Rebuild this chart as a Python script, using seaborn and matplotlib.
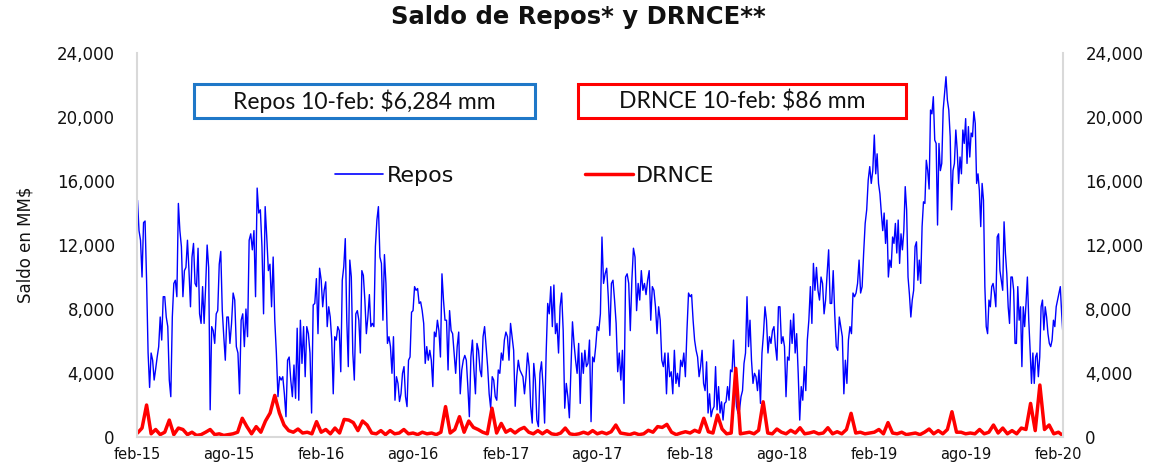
import numpy as np
import pandas as pd
import matplotlib
matplotlib.use("Agg")
import matplotlib.pyplot as plt
from matplotlib.lines import Line2D
from matplotlib.patches import Rectangle
from matplotlib.ticker import FuncFormatter
import seaborn as sns

# limites de cada semestre (el ultimo llega al 10-feb-20)
semestres = ["2015-02-02", "2015-08-01", "2016-02-01", "2016-08-01", "2017-02-01",
             "2017-08-01", "2018-02-01", "2018-08-01", "2019-02-01", "2019-08-01",
             "2020-02-10"]

repos_feb15 = [14800, 12900, 12300, 10000, 13400, 13500, 9800, 5250, 3100, 5250, 4800, 3560,
               4250, 5000, 5650, 7500, 6060, 8770, 8770, 7500, 6900, 3560, 2520, 7500, 9600,
               9800, 8770, 14600, 12900, 11900, 8770, 10400, 10600, 12300, 10400, 8140, 11250,
               12100, 9600, 9400, 11800, 7700, 7100, 9400, 7100, 9400, 12000, 10600, 1700,
               6900, 6650, 5850, 7700, 7900, 10800, 11600, 7900, 6270, 4800, 7500]
repos_ago15 = [7500, 5850, 7100, 9000, 8560, 5650, 5250, 2700, 7300, 7700, 5650, 8000, 6270,
               12300, 12700, 11700, 12900, 8770, 15560, 14000, 14200, 11900, 7700, 14400,
               12500, 10400, 10800, 8140, 11250, 7300, 5250, 2520, 3770, 3560, 3770, 2700,
               1270, 4800, 5000, 3560, 2520, 4500, 2420, 6800, 2300, 7300, 4600, 6900, 3770,
               6900, 6460, 5250, 1500, 8250, 8350, 9900, 6460, 10550]
repos_feb16 = [9800, 8140, 9170, 9700, 6900, 8140, 7500, 6060, 2700, 6270, 6060, 6900, 6650,
               4080, 9800, 10650, 12400, 7300, 4400, 11060, 10000, 5250, 3560, 7700, 7900,
               7300, 5250, 10400, 10100, 8560, 6460, 7500, 8900, 6900, 7100, 6900, 11900,
               13560, 14400, 11250, 10850, 7300, 11400, 9600, 5850, 6270, 5650, 3980, 6270,
               2300, 3770, 3350, 2220, 2700, 3980, 4400, 2520, 1900, 4800, 5000, 7800]
repos_ago16 = [7900, 9400, 9170, 9280, 8350, 8450, 7900, 7100, 4600, 5650, 4800, 5420, 4800,
               3150, 6560, 6270, 7300, 6650, 5000, 10200, 8560, 7300, 7300, 4190, 7900, 6650,
               6460, 5250, 3980, 5650, 6560, 2700, 4190, 4800, 5100, 4800, 3150, 1270, 5000,
               6060, 4190, 2700, 5850, 5420, 4190, 3770, 6270, 6900, 5650, 4400, 2700, 1800,
               3770, 3560, 2520, 2300, 4190, 3980, 5250, 4800, 6060]
repos_feb17 = [6560, 6270, 4800, 7100, 6270, 5420, 1920, 3770, 4800, 4190, 3980, 3770, 2700,
               3770, 5250, 4400, 1920, 870, 4600, 3560, 1060, 650, 3980, 4700, 3150, 870,
               5250, 8350, 7700, 9400, 6900, 9500, 6460, 7100, 5250, 8140, 9000, 6650, 1800,
               3350, 2520, 1200, 4190, 7200, 5850, 4800, 3980, 5850, 2100, 5250, 3980, 5420,
               4400, 4600, 6060, 960, 5000, 4700, 5650]
repos_ago17 = [6900, 6650, 7700, 12500, 9600, 10200, 10550, 8770, 6350, 9600, 9800, 8560,
               7100, 4080, 5250, 3560, 5420, 2100, 10000, 10200, 9600, 6650, 9800, 11800,
               11250, 7900, 9600, 8560, 10400, 9170, 9600, 8900, 9800, 10400, 7300, 9400,
               9170, 8140, 6460, 8140, 7300, 4800, 4400, 5250, 2700, 5250, 3770, 4080, 2700,
               5420, 3350, 3980, 3150, 4800, 4400, 5250, 3770, 6650, 9000]
repos_feb18 = [8770, 8900, 7300, 6060, 5420, 5000, 3770, 4400, 5420, 3350, 2900, 4700, 1500,
               2700, 1270, 1700, 1900, 4400, 1700, 3150, 1500, 2200, 1060, 2100, 2200, 3150,
               2300, 4190, 4080, 6060, 3560, 1900, 1480, 1700, 2520, 2900, 4600, 5250, 8770,
               5650, 7300, 4800, 3350, 3980, 3770, 2900, 4190, 2100, 5250, 6460, 8140, 7300,
               5250, 6270, 5850, 6650, 6900, 5650, 4800, 8140, 8140]
repos_ago18 = [5850, 6270, 5650, 2520, 5000, 4800, 7300, 5850, 7700, 5250, 6460, 3980, 1060,
               3150, 2300, 4400, 2900, 6060, 7300, 9400, 7100, 10850, 9170, 10600, 9170, 8560,
               10000, 9600, 7700, 8560, 10200, 11700, 8350, 8350, 10400, 7700, 5650, 5420,
               7500, 6900, 6270, 2700, 4800, 3350, 6060, 6900, 6460, 9000, 8770, 9000, 9600,
               11060, 9000, 9400, 11500, 13350, 14200, 16060, 16900, 15850, 16660]
repos_feb19 = [18875, 16450, 17700, 15850, 15200, 14000, 12900, 14000, 12100, 13560, 10000,
               11060, 10600, 12500, 12100, 13350, 11500, 13560, 10850, 12700, 11700, 12900,
               15650, 14200, 10000, 8900, 7500, 8560, 9170, 11900, 12200, 9800, 11060, 9600,
               13150, 14700, 14600, 17300, 16650, 15500, 20440, 20200, 21270, 18560, 18350,
               13250, 18350, 16650, 17100, 20440, 21480, 22520, 21060, 20440, 18770, 14200,
               16650, 17100, 19190, 17920, 15850, 17500, 16450, 19190, 18350]
repos_ago19 = [19900, 17100, 19400, 17500, 19000, 18770, 20330, 19600, 15850, 16450, 15400,
               13150, 15850, 14800, 9400, 6900, 6460, 8560, 8140, 9400, 9600, 9000, 8140,
               12500, 12700, 10400, 9800, 9170, 13450, 11480, 10200, 8140, 7100, 10000, 10000,
               9170, 5850, 5850, 9400, 7300, 8140, 4400, 8140, 6900, 8350, 10000, 7300, 5420,
               3350, 5250, 3350, 5000, 5250, 3770, 5000, 8140, 8560, 6690, 8140, 7500, 6460,
               5850, 5650, 6060, 7300, 6900, 8140, 8560, 9000, 9400, 7700, 6284]

# DRNCE, MM$
drnce_feb15 = [250, 560, 2000, 200, 470, 150, 300, 1060, 150, 560,
               470, 150, 300, 100, 150, 300, 470, 150, 200, 100]
drnce_ago15 = [150, 200, 300, 1170, 650, 200, 650, 300, 1000, 1500,
               2600, 1500, 750, 400, 300, 500, 250, 300, 200, 960]
drnce_feb16 = [300, 470, 200, 560, 250, 1100, 1060, 900, 400, 1000,
               750, 250, 200, 400, 150, 400, 200, 250, 470, 200]
drnce_ago16 = [250, 150, 300, 200, 250, 150, 300, 1900, 250, 470,
               1270, 300, 1000, 600, 470, 300, 200, 1800, 250, 850]
drnce_feb17 = [300, 470, 250, 470, 600, 300, 200, 400, 200, 400,
               200, 150, 250, 560, 200, 150, 200, 300, 200, 400]
drnce_ago17 = [200, 300, 200, 330, 750, 250, 200, 150, 250, 150,
               200, 420, 300, 650, 600, 790, 300, 150, 250, 330]
drnce_feb18 = [250, 420, 300, 1170, 330, 250, 1375, 500, 200, 250,
               4290, 200, 250, 300, 200, 420, 2200, 250, 200, 500]
drnce_ago18 = [300, 200, 420, 250, 580, 200, 250, 330, 200, 250,
               580, 200, 330, 200, 470, 1480, 250, 300, 200, 250]
drnce_feb19 = [300, 470, 200, 900, 250, 200, 300, 150, 200, 250,
               150, 300, 500, 200, 400, 200, 470, 1580, 300, 300]
drnce_ago19 = [200, 250, 200, 470, 200, 300, 750, 250, 560, 200, 400,
               200, 560, 470, 2100, 400, 3250, 470, 750, 200, 300, 86]

repos = [repos_feb15, repos_ago15, repos_feb16, repos_ago16, repos_feb17,
         repos_ago17, repos_feb18, repos_ago18, repos_feb19, repos_ago19]
drnce = [drnce_feb15, drnce_ago15, drnce_feb16, drnce_ago16, drnce_feb17,
         drnce_ago17, drnce_feb18, drnce_ago18, drnce_feb19, drnce_ago19]

etiquetas_x = ["feb-15", "ago-15", "feb-16", "ago-16", "feb-17", "ago-17",
               "feb-18", "ago-18", "feb-19", "ago-19", "feb-20"]
fechas_x = pd.to_datetime(["2015-02-01", "2015-08-01", "2016-02-01", "2016-08-01",
                           "2017-02-01", "2017-08-01", "2018-02-01", "2018-08-01",
                           "2019-02-01", "2019-08-01", "2020-02-01"])


# reparte los valores de cada semestre a lo largo de sus fechas
def armar_serie(bloques, nombre):
    fechas = []
    for i, vals in enumerate(bloques):
        ini, fin = pd.Timestamp(semestres[i]), pd.Timestamp(semestres[i + 1])
        if i == len(bloques) - 1:
            fechas.extend(pd.date_range(ini, fin, periods=len(vals)))
        else:
            fechas.extend(pd.date_range(ini, fin, periods=len(vals) + 1)[:-1])
    return pd.DataFrame({"fecha": fechas, "saldo": np.concatenate(bloques), "serie": nombre})


df_repos = armar_serie(repos, "Repos")
df_drnce = armar_serie(drnce, "DRNCE")

sns.set_theme(style="white")
plt.rcParams["font.family"] = ["DejaVu Sans"]

fig = plt.figure(figsize=(11.57, 4.66), dpi=100)
ax = fig.add_axes([0.1184, 0.0622, 0.8004, 0.824])

sns.lineplot(data=df_repos, x="fecha", y="saldo", color="#0000FF", linewidth=1.0, ax=ax)
sns.lineplot(data=df_drnce, x="fecha", y="saldo", color="#FF0000", linewidth=2.5, ax=ax)

ax.set_xlim(pd.Timestamp("2015-02-01"), pd.Timestamp("2020-02-10"))
ax.set_ylim(0, 24000)
ax.set_yticks(range(0, 24001, 4000))
ax.yaxis.set_major_formatter(FuncFormatter(lambda v, p: f"{int(v):,}"))
ax.set_xticks(fechas_x)
ax.set_xticklabels(etiquetas_x)
ax.tick_params(axis="y", labelsize=12, labelright=True, right=True, left=True,
               length=0, pad=16, colors="#111111")
ax.tick_params(axis="x", labelsize=10.5, length=0, pad=7, colors="#111111")
ax.set_xlabel("")
ax.set_ylabel("Saldo en MM$", fontsize=12, labelpad=16, color="#111111")

for lado in ["left", "right", "bottom"]:
    ax.spines[lado].set_color("#D9D9D9")
    ax.spines[lado].set_linewidth(1.5)
ax.spines["top"].set_visible(False)

manijas = [Line2D([], [], color="#0000FF", linewidth=1.2),
           Line2D([], [], color="#FF0000", linewidth=2.5)]
ax.legend(manijas, ["Repos", "DRNCE"], ncol=2, frameon=False, fontsize=16,
          loc="center", bbox_to_anchor=(0.419, 0.68), handlelength=2.15,
          handletextpad=0.15, columnspacing=5.9, labelcolor="#111111")

fig.suptitle("Saldo de Repos* y DRNCE**", fontsize=17.5, fontweight="bold",
             y=0.99, color="#111111")

# recuadros con el ultimo dato
fig.add_artist(Rectangle((0.1677, 0.7468), 0.2947, 0.073, transform=fig.transFigure,
                         fill=False, edgecolor="#1F78C8", linewidth=2.2))
fig.add_artist(Rectangle((0.4996, 0.7468), 0.2835, 0.073, transform=fig.transFigure,
                         fill=False, edgecolor="#FF0000", linewidth=2.2))
fig.text(0.315, 0.783, "Repos 10-feb: $6,284 mm", ha="center", va="center",
         fontsize=16.5, family=["Lato", "DejaVu Sans"], color="#111111")
fig.text(0.6413, 0.783, "DRNCE 10-feb: $86 mm", ha="center", va="center",
         fontsize=16.5, family=["Lato", "DejaVu Sans"], color="#111111")

fig.savefig("out.png", dpi=100)
